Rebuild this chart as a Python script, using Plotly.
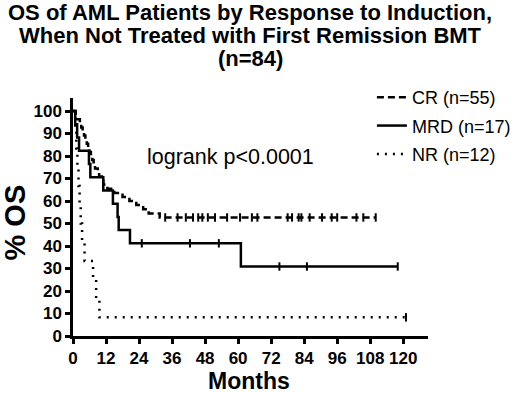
import plotly.graph_objects as go

# ---- data ----
cr_times = [0, 1.0, 1.5, 2.5, 3.0, 3.5, 4.0, 4.5, 5.0, 5.5, 6.0, 6.5, 7.0, 7.5, 8.0,
            9.0, 9.5, 10.5, 11.0, 12.5, 15.0, 18.0, 20.5, 23.0, 25.5, 27.5, 31.5, 110]
cr_surv = [100, 98.2, 96.4, 94.5, 92.7, 90.9, 89.1, 87.3, 85.5, 83.6, 81.8, 80.0, 78.2, 76.4,
           74.5, 72.7, 70.9, 69.1, 67.3, 65.5, 63.6, 61.8, 60.0, 58.2, 56.4, 54.5, 52.7, 52.7]
cr_cens_t = [33.5, 38, 41, 43.6, 45.5, 47, 49, 51.6, 56, 60.7, 65, 67, 78, 79.6, 82, 83,
             86, 90.5, 94, 96, 103, 105.5, 110]
cr_cens_s = [52.7] * len(cr_cens_t)

mrd_times = [0, 0.8, 1.5, 2.2, 5.8, 6.3, 11.0, 14.5, 16.2, 16.6, 20.7, 61.0, 118]
mrd_surv = [100, 94.1, 88.2, 82.4, 76.5, 70.6, 64.7, 58.8, 52.9, 47.1, 41.2, 30.9, 30.9]
mrd_cens_t = [25, 42.5, 53, 75, 85, 118]
mrd_cens_s = [41.2, 41.2, 41.2, 30.9, 30.9, 30.9]

nr_times = [0, 0.8, 1.2, 1.6, 2.0, 2.4, 2.8, 3.3, 4.2, 7.3, 8.4, 9.6, 121]
nr_surv = [100, 91.7, 83.3, 75.0, 66.7, 58.3, 50.0, 41.7, 33.3, 25.0, 16.7, 8.3, 8.3]
nr_cens_t = [121]
nr_cens_s = [8.3]

x_ticks = [0, 12, 24, 36, 48, 60, 72, 84, 96, 108, 120]
y_ticks = [0, 10, 20, 30, 40, 50, 60, 70, 80, 90, 100]

title_lines = ["OS of AML Patients by Response to Induction,",
               "When Not Treated with First Remission BMT",
               "(n=84)"]

series = [
    ("CR (n=55)", cr_times, cr_surv, cr_cens_t, cr_cens_s, "7px,4px"),
    ("MRD (n=17)", mrd_times, mrd_surv, mrd_cens_t, mrd_cens_s, "solid"),
    ("NR (n=12)", nr_times, nr_surv, nr_cens_t, nr_cens_s, "2px,6px"),
]

FONT = "Arial, Liberation Sans, Helvetica, sans-serif"
fig = go.Figure()
for name, t, s, ct, cs, dash in series:
    fig.add_trace(go.Scatter(
        x=t, y=s, mode="lines", name=name, line_shape="hv",
        line=dict(color="black", width=2.5, dash=dash), cliponaxis=False,
        legendgroup=name))
    fig.add_trace(go.Scatter(
        x=ct, y=cs, mode="markers", showlegend=False, legendgroup=name,
        marker=dict(symbol="line-ns", size=6, line=dict(color="black", width=2)),
        cliponaxis=False))

# title lines
for txt, ty in zip(title_lines, [1.361, 1.261, 1.168]):
    fig.add_annotation(x=0.499, y=ty, xref="paper", yref="paper", text="<b>" + txt + "</b>",
                       showarrow=False, xanchor="center", yanchor="middle",
                       font=dict(size=22, color="black", family=FONT))

fig.add_annotation(x=0.203, y=0.752, xref="paper", yref="paper", text="logrank p<0.0001",
                   showarrow=False, xanchor="left", yanchor="middle",
                   font=dict(size=21.5, color="black", family=FONT))
# axis titles
fig.add_annotation(x=0.496, y=-0.19, xref="paper", yref="paper", text="<b>Months</b>",
                   showarrow=False, xanchor="center", yanchor="middle",
                   font=dict(size=23, color="black", family=FONT))
fig.add_annotation(x=-0.162, y=0.479, xref="paper", yref="paper", text="<b>% OS</b>",
                   showarrow=False, xanchor="center", yanchor="middle", textangle=-90,
                   font=dict(size=29, color="black", family=FONT))

fig.update_layout(
    width=520, height=393,
    margin=dict(l=73, r=92, t=98, b=57, autoexpand=False),
    paper_bgcolor="white", plot_bgcolor="white",
    font=dict(family=FONT, color="black"),
    legend=dict(x=0.842, y=1.08, xanchor="left", yanchor="top",
                font=dict(size=18, family=FONT, color="black"),
                bgcolor="rgba(0,0,0,0)", itemwidth=30, tracegroupgap=2),
    showlegend=True,
)
fig.update_xaxes(
    range=[0, 129], tickvals=x_ticks, ticktext=[str(v) for v in x_ticks],
    showgrid=False, zeroline=False, showline=True, linecolor="black", linewidth=2.5,
    ticks="outside", ticklen=5, tickwidth=2.5, tickcolor="black", automargin=False,
    tickfont=dict(size=17, family=FONT, color="black", weight="bold"),
)
fig.update_yaxes(
    range=[0, 105.8], tickvals=y_ticks, ticktext=[str(v) for v in y_ticks],
    showgrid=False, zeroline=False, showline=True, linecolor="black", linewidth=2.5,
    ticks="outside", ticklen=5, tickwidth=2.5, tickcolor="black", automargin=False,
    tickfont=dict(size=17, family=FONT, color="black", weight="bold"),
)

fig.write_html("out.html", config={"displayModeBar": False},
               post_script="document.body.style.margin='0px';")
